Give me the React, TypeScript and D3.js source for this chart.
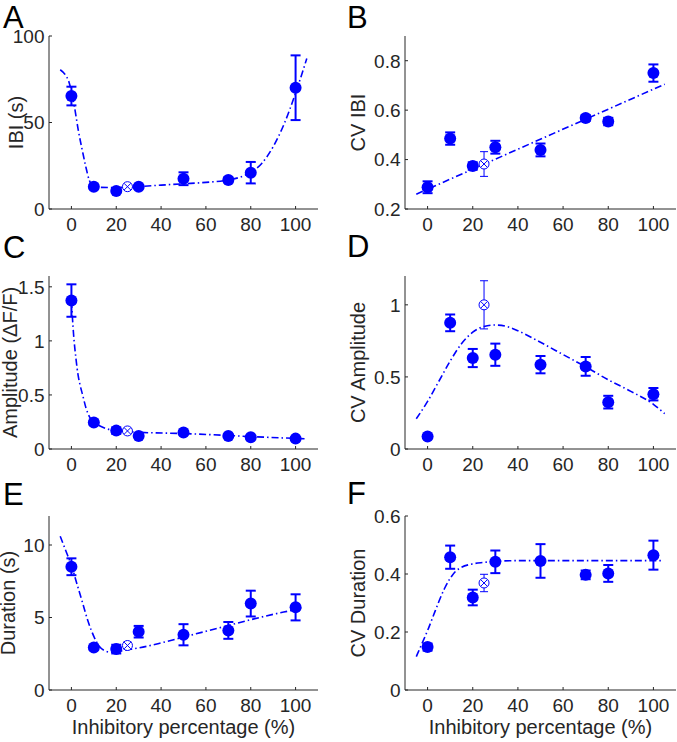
import React from "react";
import * as d3 from "d3";

// inhibitory percentage of the filled points, and the control point (open marker)
const pct = [0, 10, 20, 30, 50, 70, 80, 100];
const ctrlPct = 25;

// A: IBI (s)
const ibiMean = [65.3, 12.9, 10.4, 12.9, 17.5, 16.8, 21.0, 70.1];
const ibiErr = [5.4, 1.2, 1.0, 1.0, 3.7, 1.5, 6.2, 18.7];
const ibiCtrl = [12.9, 1.2];
const ibiFit = [[-5, 80.5], [-3, 78], [-1, 73], [0, 68], [1.5, 58], [3, 46], [5, 33], [6.5, 24], [8, 16.5], [10, 13.2], [13, 12.5], [20, 12.4], [30, 13], [40, 13.8], [50, 14.6], [60, 15.4], [70, 16.8], [75, 18.3], [80, 21.2], [85, 26.5], [90, 36], [95, 49.5], [100, 67], [105, 87]];

// B: CV IBI
const cvIbiMean = [0.288, 0.485, 0.374, 0.45, 0.439, 0.568, 0.554, 0.75];
const cvIbiErr = [0.024, 0.025, 0.015, 0.026, 0.026, 0.012, 0.015, 0.035];
const cvIbiCtrl = [0.382, 0.05];
const cvIbiFit = [[-5, 0.26], [105, 0.705]];

// C: Amplitude (dF/F)
const ampMean = [1.373, 0.244, 0.17, 0.121, 0.152, 0.121, 0.108, 0.096];
const ampErr = [0.15, 0.02, 0.03, 0.01, 0.015, 0.01, 0.01, 0.01];
const ampCtrl = [0.167, 0.02];
const ampFit = [[0, 1.37], [1, 1.05], [2, 0.84], [3, 0.68], [4, 0.58], [5, 0.5], [6.5, 0.38], [8, 0.3], [10, 0.25], [13, 0.21], [17, 0.18], [20, 0.17], [30, 0.155], [50, 0.143], [70, 0.125], [80, 0.115], [100, 0.098], [104, 0.095]];

// D: CV Amplitude
const cvAmpMean = [0.086, 0.875, 0.631, 0.654, 0.585, 0.573, 0.325, 0.38];
const cvAmpErr = [0.01, 0.058, 0.063, 0.077, 0.06, 0.065, 0.044, 0.043];
const cvAmpCtrl = [1.0, 0.167];
const cvAmpFit = [[-5, 0.21], [0, 0.33], [5, 0.47], [10, 0.61], [15, 0.73], [20, 0.81], [25, 0.85], [30, 0.86], [35, 0.85], [40, 0.82], [50, 0.74], [60, 0.655], [70, 0.57], [80, 0.48], [90, 0.4], [100, 0.31], [105, 0.245]];

// E: Duration (s)
const durMean = [8.5, 2.93, 2.82, 4.02, 3.81, 4.11, 5.96, 5.7];
const durErr = [0.58, 0.15, 0.3, 0.4, 0.73, 0.58, 0.89, 0.9];
const durCtrl = [3.07, 0.25];
const durFit = [[-5, 10.6], [-2.5, 9.6], [0, 8.6], [2.5, 7.3], [5, 6.0], [7.5, 4.7], [10, 3.7], [12.5, 3.0], [15, 2.7], [17.5, 2.6], [20, 2.64], [25, 2.77], [30, 2.9], [40, 3.25], [50, 3.65], [60, 4.05], [70, 4.45], [80, 4.85], [90, 5.22], [100, 5.55], [103, 5.66]];

// F: CV Duration
const cvDurMean = [0.148, 0.458, 0.319, 0.442, 0.445, 0.397, 0.402, 0.465];
const cvDurErr = [0.012, 0.04, 0.027, 0.039, 0.058, 0.015, 0.029, 0.05];
const cvDurCtrl = [0.369, 0.03];
const cvDurFit = [[-5, 0.115], [-2.5, 0.16], [0, 0.205], [2.5, 0.255], [5, 0.305], [7.5, 0.35], [10, 0.385], [12.5, 0.41], [15, 0.423], [20, 0.435], [25, 0.44], [30, 0.444], [40, 0.446], [60, 0.446], [80, 0.446], [104, 0.446]];

const xTicks = [0, 20, 40, 60, 80, 100];
const xLabel = "Inhibitory percentage (%)";

const BLUE = "#0000ff";
const AX = "#262626";
const FONT = "'Liberation Sans', Arial, Helvetica, sans-serif";

const Panel = ({ letter, left, right, top, bottom, yDomain, yTicks, yLabel, yLabelX, letterX, letterY,
    mean, err, ctrl, fit, showX }) => {
    const x = d3.scaleLinear().domain([-10, 110]).range([left, right]);
    const y = d3.scaleLinear().domain(yDomain).range([bottom, top]);
    const line = d3.line().x(d => x(d[0])).y(d => y(d[1])).curve(d3.curveMonotoneX);
    const cap = 5;

    return (
        <g>
            <text x={letterX} y={letterY} fontSize={31} fill="#000">{letter}</text>

            {/* axes */}
            <line x1={left} y1={bottom} x2={right} y2={bottom} stroke={AX} strokeWidth={1} />
            <line x1={left} y1={bottom} x2={left} y2={top} stroke={AX} strokeWidth={1} />
            {xTicks.map(t => (
                <g key={"x" + t}>
                    <line x1={x(t)} x2={x(t)} y1={bottom} y2={bottom - 3} stroke={AX} />
                    <text x={x(t)} y={bottom + 21.5} textAnchor="middle" fontSize={19} fill={AX}>{t}</text>
                </g>
            ))}
            {yTicks.map(t => (
                <g key={"y" + t}>
                    <line x1={left} x2={left + 3} y1={y(t)} y2={y(t)} stroke={AX} />
                    <text x={left - 4.5} y={y(t)} dy="0.36em" textAnchor="end" fontSize={19} fill={AX}>{t}</text>
                </g>
            ))}
            <text transform={`translate(${yLabelX},${(top + bottom) / 2}) rotate(-90)`} textAnchor="middle"
                fontSize={20} fill={AX}>{yLabel}</text>
            {showX && (
                <text x={(left + right) / 2} y={734} textAnchor="middle" fontSize={20} fill={AX}>{xLabel}</text>
            )}

            {/* fit */}
            <path d={line(fit)} fill="none" stroke={BLUE} strokeWidth={1.6} strokeDasharray="7,3,1.5,3" />

            {/* error bars */}
            {pct.map((p, i) => (
                <g key={"e" + p} stroke={BLUE} strokeWidth={2}>
                    <line x1={x(p)} x2={x(p)} y1={y(mean[i] - err[i])} y2={y(mean[i] + err[i])} />
                    <line x1={x(p) - cap} x2={x(p) + cap} y1={y(mean[i] - err[i])} y2={y(mean[i] - err[i])} />
                    <line x1={x(p) - cap} x2={x(p) + cap} y1={y(mean[i] + err[i])} y2={y(mean[i] + err[i])} />
                </g>
            ))}
            {pct.map((p, i) => (
                <circle key={"m" + p} cx={x(p)} cy={y(mean[i])} r={6} fill={BLUE} />
            ))}

            {/* control (open marker) */}
            <g stroke={BLUE} strokeWidth={1} fill="none">
                <line x1={x(ctrlPct)} x2={x(ctrlPct)} y1={y(ctrl[0] - ctrl[1])} y2={y(ctrl[0] + ctrl[1])} />
                <line x1={x(ctrlPct) - 4} x2={x(ctrlPct) + 4} y1={y(ctrl[0] - ctrl[1])} y2={y(ctrl[0] - ctrl[1])} />
                <line x1={x(ctrlPct) - 4} x2={x(ctrlPct) + 4} y1={y(ctrl[0] + ctrl[1])} y2={y(ctrl[0] + ctrl[1])} />
                <circle cx={x(ctrlPct)} cy={y(ctrl[0])} r={5} fill="#fff" />
                <line x1={x(ctrlPct) - 3.3} x2={x(ctrlPct) + 3.3} y1={y(ctrl[0]) - 3.3} y2={y(ctrl[0]) + 3.3} />
                <line x1={x(ctrlPct) - 3.3} x2={x(ctrlPct) + 3.3} y1={y(ctrl[0]) + 3.3} y2={y(ctrl[0]) - 3.3} />
            </g>
        </g>
    );
};

const App = () => {
    const L = [49, 318];
    const R = [405, 676];
    return (
        <svg width={677} height={742} style={{ position: "absolute", left: 0, top: 0, background: "#fff" }}
            fontFamily={FONT}>
            <Panel letter="A" left={L[0]} right={L[1]} top={36} bottom={209} yDomain={[0, 100]} yTicks={[0, 50, 100]}
                yLabel="IBI (s)" yLabelX={23} letterX={3} letterY={28}
                mean={ibiMean} err={ibiErr} ctrl={ibiCtrl} fit={ibiFit} />
            <Panel letter="B" left={R[0]} right={R[1]} top={36} bottom={209} yDomain={[0.2, 0.9]} yTicks={[0.2, 0.4, 0.6, 0.8]}
                yLabel="CV IBI" yLabelX={365} letterX={347} letterY={28}
                mean={cvIbiMean} err={cvIbiErr} ctrl={cvIbiCtrl} fit={cvIbiFit} />
            <Panel letter="C" left={L[0]} right={L[1]} top={276} bottom={449} yDomain={[0, 1.6]} yTicks={[0, 0.5, 1, 1.5]}
                yLabel="Amplitude (ΔF/F)" yLabelX={16.5} letterX={3} letterY={258}
                mean={ampMean} err={ampErr} ctrl={ampCtrl} fit={ampFit} />
            <Panel letter="D" left={R[0]} right={R[1]} top={276} bottom={449} yDomain={[0, 1.2]} yTicks={[0, 0.5, 1]}
                yLabel="CV Amplitude" yLabelX={365} letterX={347} letterY={257}
                mean={cvAmpMean} err={cvAmpErr} ctrl={cvAmpCtrl} fit={cvAmpFit} />
            <Panel letter="E" left={L[0]} right={L[1]} top={516} bottom={690} yDomain={[0, 12]} yTicks={[0, 5, 10]}
                yLabel="Duration (s)" yLabelX={15} letterX={3} letterY={505}
                mean={durMean} err={durErr} ctrl={durCtrl} fit={durFit} showX />
            <Panel letter="F" left={R[0]} right={R[1]} top={516} bottom={690} yDomain={[0, 0.6]} yTicks={[0, 0.2, 0.4, 0.6]}
                yLabel="CV Duration" yLabelX={365} letterX={347} letterY={504}
                mean={cvDurMean} err={cvDurErr} ctrl={cvDurCtrl} fit={cvDurFit} showX />
        </svg>
    );
};

export default App;
